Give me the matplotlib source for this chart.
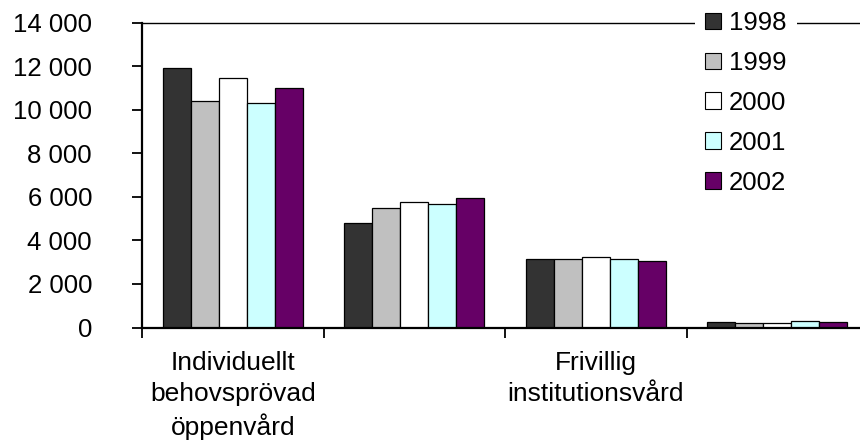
import numpy as np
import matplotlib
matplotlib.use('Agg')
import matplotlib.pyplot as plt
from matplotlib.patches import Patch
from matplotlib.ticker import FuncFormatter, FixedLocator

# data per kategori och år
kategorier = ['Individuellt\nbehovsprövad\nöppenvård', '', 'Frivillig\ninstitutionsvård', '']
ar = ['1998', '1999', '2000', '2001', '2002']
v1998 = [11900, 4800, 3150, 260]
v1999 = [10400, 5480, 3150, 190]
v2000 = [11450, 5750, 3250, 210]
v2001 = [10300, 5650, 3150, 280]
v2002 = [11000, 5950, 3050, 230]
serier = [v1998, v1999, v2000, v2001, v2002]
farger = ['#333333', '#c0c0c0', '#ffffff', '#ccffff', '#660066']

plt.rcParams['font.family'] = ['Liberation Sans', 'DejaVu Sans']
fs = 18.5

fig = plt.figure(figsize=(8.6, 4.46), dpi=100)
ax = fig.add_axes([142/860, 1 - 327.5/446, 718/860, (327.5 - 22.7)/446])

x = np.arange(len(kategorier))
w = 0.771 / 5
for i in range(5):
    ax.bar(x + (i - 2) * w, serier[i], w, color=farger[i], edgecolor='black',
           linewidth=0.9, label=ar[i], zorder=2)

ax.set_xlim(-0.5, -0.5 + 718/181.5)
ax.set_ylim(0, 14000)

# y-axel
ax.set_yticks(np.arange(0, 14001, 2000))
ax.yaxis.set_major_formatter(FuncFormatter(lambda v, p: '{:,}'.format(int(v)).replace(',', ' ')))
ax.tick_params(axis='y', direction='out', length=7.5, width=1.3, pad=28.5, labelsize=fs)

# x-axel: etiketter i mitten, streck mellan grupperna
ax.set_xticks(x)
ax.set_xticklabels(kategorier, fontsize=19, linespacing=1.35)
ax.tick_params(axis='x', which='major', length=0, pad=17)
ax.xaxis.set_minor_locator(FixedLocator([-0.5, 0.5, 1.5, 2.5]))
ax.tick_params(axis='x', which='minor', direction='out', length=7.5, width=1.3)

ax.spines['right'].set_visible(False)
ax.spines['left'].set_linewidth(1.6)
ax.spines['bottom'].set_linewidth(1.6)
ax.spines['top'].set_linewidth(1.0)

handles = [Patch(facecolor=farger[i], edgecolor='black', linewidth=0.8) for i in range(5)]
leg = fig.legend(handles, ar, loc='upper left', bbox_to_anchor=(695/860, 1 - 0.7/446),
                 frameon=True, facecolor='white', edgecolor='none', framealpha=1,
                 fontsize=fs, handlelength=0.62, handleheight=0.62, handletextpad=0.3,
                 labelspacing=0.62, borderpad=0.4, borderaxespad=0, fancybox=False)

fig.savefig('out.png', dpi=100)
